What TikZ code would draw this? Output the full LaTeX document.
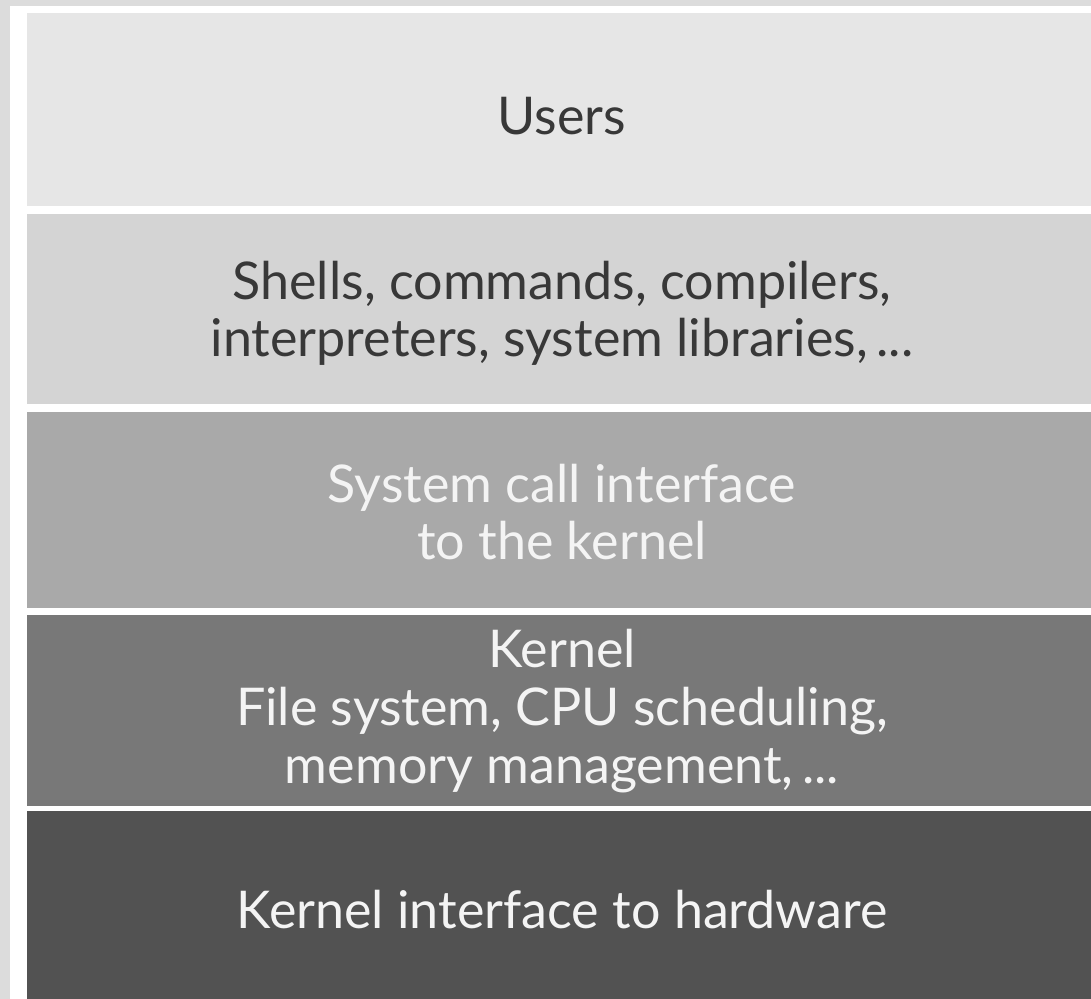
\documentclass[tikz,border=0pt]{standalone}
\usepackage{fontspec}
\setmainfont{Lato}
\definecolor{frame}{HTML}{DCDCDC}
\definecolor{usersband}{HTML}{E6E6E6}
\definecolor{shellband}{HTML}{D4D4D4}
\definecolor{callband}{HTML}{A9A9A9}
\definecolor{kernelband}{HTML}{787878}
\definecolor{hwband}{HTML}{525252}
\definecolor{darktext}{HTML}{383838}
\definecolor{lighttext}{HTML}{F4F4F4}
\tikzset{
  % anchor=base sits on the baseline of the last line of a label
  layertext/.style={align=center, inner sep=0pt, anchor=base,
    font=\fontsize{14.8pt}{16.5pt}\selectfont},
  darklabel/.style={layertext, text=darktext},
  lightlabel/.style={layertext, text=lighttext}
}
\begin{document}
\begin{tikzpicture}[x=0.1mm, y=-0.1mm]
  % page background and white frame
  \fill[frame] (0,0) rectangle (1091,999);
  \fill[white] (10,6) rectangle (1091,999);
  % the five layers, top to bottom
  \fill[usersband]  (27,13)  rectangle (1091,206);
  \fill[shellband]  (27,214) rectangle (1091,404);
  \fill[callband]   (27,412) rectangle (1091,608);
  \fill[kernelband] (27,615) rectangle (1091,806);
  \fill[hwband]     (27,811) rectangle (1091,999);
  % layer labels
  \node[darklabel]  (users)   at (562,135) {Users};
  \node[darklabel]  (shells)  at (562,357) {Shells, commands, compilers,\\interpreters, system libraries,\,...};
  \node[lightlabel] (syscall) at (562,560) {System call interface\\to the kernel};
  \node[lightlabel] (kernel)  at (562,783) {Kernel\\File system, CPU scheduling,\\memory management,\,...};
  \node[lightlabel] (hw)      at (562,928) {Kernel interface to hardware};
\end{tikzpicture}
\end{document}
